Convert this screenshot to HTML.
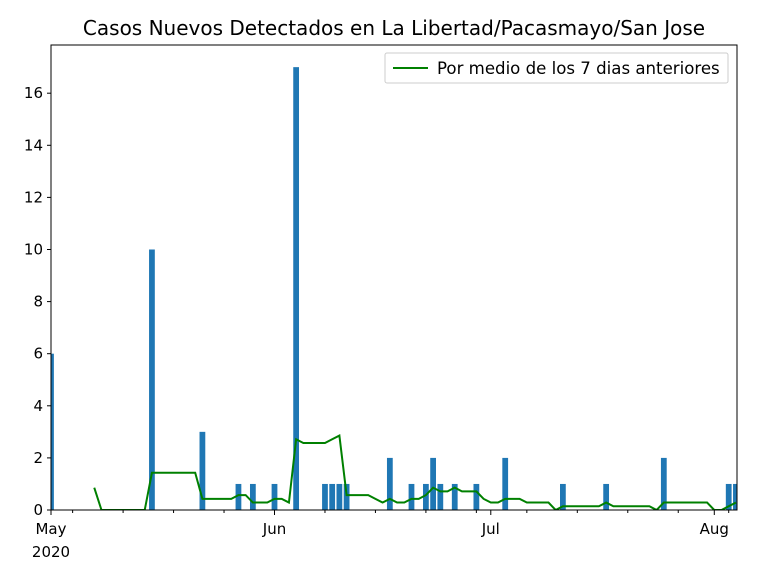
<!DOCTYPE html>
<html><head><meta charset="utf-8"><style>
body{margin:0;background:#fff;}
svg text{font-family:"DejaVu Sans","Liberation Sans",sans-serif;}
</style></head><body>
<svg id="chart" width="768" height="576" xmlns="http://www.w3.org/2000/svg">
<rect width="768" height="576" fill="#fff"/>
<text x="394" y="35" font-size="20" text-anchor="middle">Casos Nuevos Detectados en La Libertad/Pacasmayo/San Jose</text>
<g id="plot"></g>
<g>
<rect x="385" y="53" width="343" height="30" fill="#fff" stroke="#ccc" rx="2"/>
<line x1="393" y1="68" x2="428" y2="68" stroke="green" stroke-width="2"/>
<text x="437" y="74" font-size="16.6">Por medio de los 7 dias anteriores</text>
</g>
</svg>
<script>
const caseDays=[0,14,21,26,28,31,34,38,39,40,41,47,50,52,53,54,56,59,63,71,77,85,94,95];
const caseCounts=[6,10,3,1,1,1,17,1,1,1,1,2,1,1,2,1,1,1,2,1,1,2,1,1];
const yTicks=[0,2,4,6,8,10,12,14,16];
const monthTicks=[{d:0,l:"May"},{d:31,l:"Jun"},{d:61,l:"Jul"},{d:92,l:"Aug"}];
const minorTickDays=[3,10,17,24,38,45,52,59,66,73,80,87,94];
const NS="http://www.w3.org/2000/svg";
const L=51,R=737,T=45,B=510,dMin=0,dMax=95.15,yMax=17.85;
const xs=d=>L+(d-dMin)/(dMax-dMin)*(R-L);
const ys=v=>B-v/yMax*(B-T);
const g=document.getElementById('plot');
function mk(t,a){const e=document.createElementNS(NS,t);for(const k in a)e.setAttribute(k,a[k]);g.appendChild(e);return e;}
const daily=[];for(let d=0;d<=95;d++)daily.push(0);
caseDays.forEach((d,i)=>daily[d]=caseCounts[i]);
const cp=mk('clipPath',{id:'c'});const cr=document.createElementNS(NS,'rect');
cr.setAttribute('x',L);cr.setAttribute('y',T);cr.setAttribute('width',R-L);cr.setAttribute('height',B-T);cp.appendChild(cr);
const bw=(xs(1)-xs(0))*0.8;
caseDays.forEach((d,i)=>{
 const r=mk('rect',{x:xs(d)-bw/2,y:ys(caseCounts[i]),width:bw,height:B-ys(caseCounts[i]),fill:'#1f77b4','clip-path':'url(#c)'});
 
 
});
let pts=[];
for(let d=6;d<=95;d++){let s=0;for(let k=d-6;k<=d;k++)s+=daily[k];pts.push(xs(d)+','+ys(s/7));}
const pl=mk('polyline',{points:pts.join(' '),fill:'none',stroke:'green','stroke-width':2,'clip-path':'url(#c)'});


const fr=mk('rect',{x:L,y:T,width:R-L,height:B-T,fill:'none',stroke:'#000','stroke-width':1});


yTicks.forEach(v=>{
 const y=ys(v);
 const tl=mk('line',{x1:L-4,x2:L,y1:y,y2:y,stroke:'#000'});
 
 
 const t=mk('text',{x:L-8,y:y+5,'font-size':15,'text-anchor':'end'});t.textContent=v;
 
 
});
minorTickDays.forEach(d=>{
 const ln=mk('line',{x1:xs(d),x2:xs(d),y1:B,y2:B+3,stroke:'#000'});
 
 
});
monthTicks.forEach((m,i)=>{
 const x=xs(m.d);
 const ln=mk('line',{x1:x,x2:x,y1:B,y2:B+5,stroke:'#000'});
 
 
 const t=mk('text',{x:x,y:B+24,'font-size':15,'text-anchor':'middle'});t.textContent=m.l;
 
 
 if(i===0){const t2=mk('text',{x:x,y:B+47,'font-size':15,'text-anchor':'middle'});t2.textContent='2020';
 
 }
});
</script>
</body></html>
